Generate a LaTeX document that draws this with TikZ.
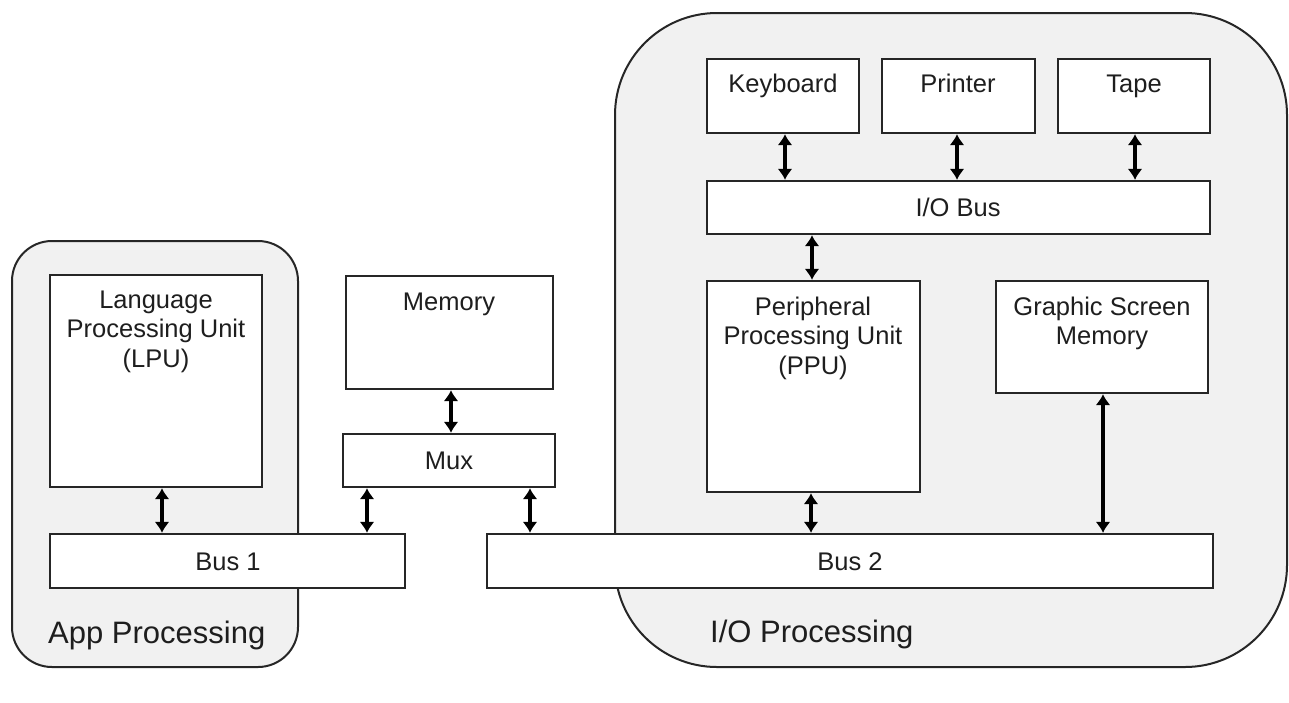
\documentclass[tikz,border=0pt]{standalone}
\usepackage{fontspec}
\setmainfont{Liberation Sans}
\usetikzlibrary{arrows.meta,fit}
\definecolor{groupfill}{HTML}{F1F1F1}
\definecolor{edge}{HTML}{262626}
\definecolor{ink}{HTML}{1E1E1E}
\tikzset{
  group/.style={draw=edge, fill=groupfill, line width=2pt, inner sep=0pt},
  unit/.style={draw=edge, fill=white, line width=2.2pt, inner sep=0pt},
  boxtext/.style={text=ink, font=\fontsize{25.5}{29.5}\selectfont, align=center, inner sep=0pt},
  grouplabel/.style={text=ink, font=\fontsize{31}{36}\selectfont, inner sep=0pt, anchor=base west},
  link/.style={draw=black, line width=4.4pt,
    {Latex[length=11pt,width=15pt]}-{Latex[length=11pt,width=15pt]}}
}
\begin{document}
\begin{tikzpicture}[x=1pt,y=-1pt]
  \useasboundingbox (0,0) rectangle (1289,702);

  % processing groups
  \node[group, rounded corners=40pt, fit={(12,241) (298,667)}] (appgrp) {};
  \node[group, rounded corners=102pt, fit={(615,13) (1287,667)}] (iogrp) {};
  \node[grouplabel] (applbl) at (48,643) {App Processing};
  \node[grouplabel] (iolbl) at (710,642) {I/O Processing};

  % units and buses
  \node[unit, fit={(50,275) (262,487)}] (lpu) {};
  \node[unit, fit={(50,534) (405,588)}] (bus1) {};
  \node[unit, fit={(346,276) (553,389)}] (mem) {};
  \node[unit, fit={(343,434) (555,487)}] (mux) {};
  \node[unit, fit={(487,534) (1213,588)}] (bus2) {};
  \node[unit, fit={(707,59) (859,133)}] (kbd) {};
  \node[unit, fit={(882,59) (1035,133)}] (prn) {};
  \node[unit, fit={(1058,59) (1210,133)}] (tape) {};
  \node[unit, fit={(707,181) (1210,234)}] (iobus) {};
  \node[unit, fit={(707,281) (920,492)}] (ppu) {};
  \node[unit, fit={(996,281) (1208,393)}] (gsm) {};

  % labels inside the units
  \node[boxtext, anchor=north] (lputxt) at (156,290.5) {Language\\Processing Unit\\(LPU)};
  \node[boxtext, anchor=base] (bus1txt) at (228,570) {Bus 1};
  \node[boxtext, anchor=base] (memtxt) at (449,310) {Memory};
  \node[boxtext, anchor=base] (muxtxt) at (449,469.5) {Mux};
  \node[boxtext, anchor=base] (bus2txt) at (850,570) {Bus 2};
  \node[boxtext, anchor=base] (kbdtxt) at (783,92) {Keyboard};
  \node[boxtext, anchor=base] (prntxt) at (958,92) {Printer};
  \node[boxtext, anchor=base] (tapetxt) at (1134,92) {Tape};
  \node[boxtext, anchor=base] (iobustxt) at (958,216) {I/O Bus};
  \node[boxtext, anchor=north] (pputxt) at (813,296.5) {Peripheral\\Processing Unit\\(PPU)};
  \node[boxtext, anchor=north] (gsmtxt) at (1102,296.5) {Graphic Screen\\Memory};

  % arrow columns
  \coordinate (c1) at (162,0);
  \coordinate (c2) at (367,0);
  \coordinate (c3) at (451,0);
  \coordinate (c4) at (530,0);
  \coordinate (c5) at (785,0);
  \coordinate (c6) at (957,0);
  \coordinate (c7) at (1135,0);
  \coordinate (c8) at (812,0);
  \coordinate (c9) at (811,0);
  \coordinate (c10) at (1103,0);

  % bidirectional links
  \draw[link] (lpu.south -| c1) -- (bus1.north -| c1);
  \draw[link] (mux.south -| c2) -- (bus1.north -| c2);
  \draw[link] (mem.south -| c3) -- (mux.north -| c3);
  \draw[link] (mux.south -| c4) -- (bus2.north -| c4);
  \draw[link] (kbd.south -| c5) -- (iobus.north -| c5);
  \draw[link] (prn.south -| c6) -- (iobus.north -| c6);
  \draw[link] (tape.south -| c7) -- (iobus.north -| c7);
  \draw[link] (iobus.south -| c8) -- (ppu.north -| c8);
  \draw[link] (ppu.south -| c9) -- (bus2.north -| c9);
  \draw[link] (gsm.south -| c10) -- (bus2.north -| c10);
\end{tikzpicture}
\end{document}
